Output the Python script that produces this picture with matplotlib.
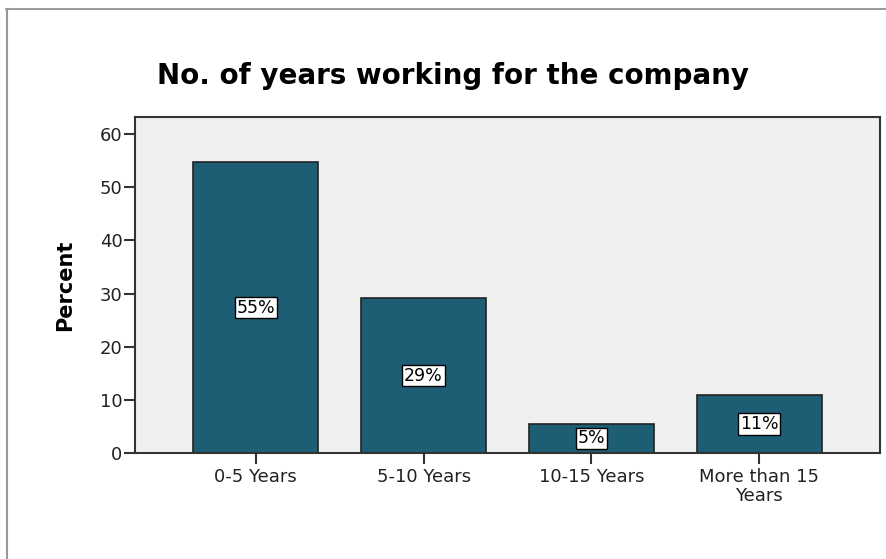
import matplotlib.pyplot as plt
from matplotlib.lines import Line2D

categories = ["0-5 Years", "5-10 Years", "10-15 Years", "More than 15\nYears"]
percent = [54.7, 29.1, 5.5, 10.9]
labels = ["55%", "29%", "5%", "11%"]
yticks = [0, 10, 20, 30, 40, 50, 60]

plt.rcParams['font.family'] = ['DejaVu Sans']

fig = plt.figure(figsize=(8.86, 5.59), dpi=100)
ax = fig.add_axes([135/886, 1 - 453/559, 745/886, 336/559])
ax.set_facecolor("#f0f0f0")

x = range(len(categories))
ax.bar(x, percent, width=0.744, color="#1d5e74", edgecolor="#222222", linewidth=1.2)
for i, (v, lab) in enumerate(zip(percent, labels)):
    ax.text(i, v / 2, lab, ha="center", va="center", fontsize=12.5, color="black",
            bbox=dict(boxstyle="square,pad=0.1", facecolor="white", edgecolor="black", linewidth=1))

ax.set_xlim(-0.72, 3.72)
ax.set_ylim(0, 63.2)
ax.set_xticks(list(x))
ax.set_xticklabels(categories, fontsize=13, color="#222222", linespacing=1.05)
ax.set_yticks(yticks)
ax.set_yticklabels([str(t) for t in yticks], fontsize=13, color="#222222")
ax.tick_params(axis="both", direction="out", length=8, width=1.5, color="#333333")
ax.tick_params(axis="x", pad=3)
ax.tick_params(axis="y", pad=1)
for s in ax.spines.values():
    s.set_color("#333333")
    s.set_linewidth(1.5)

ax.set_ylabel("Percent", fontsize=15, fontweight="bold")
ax.yaxis.set_label_coords(-0.08, 0.5)
fig.text(453/886, 1 - 84/559, "No. of years working for the company", ha="center", va="baseline",
         fontsize=20, fontweight="bold", color="black")

# outer frame lines (top and left)
fig.add_artist(Line2D([6/886, 1], [1 - 9/559, 1 - 9/559], color="#888888", linewidth=1.2))
fig.add_artist(Line2D([6.5/886, 6.5/886], [0, 1 - 9/559], color="#999999", linewidth=1.5))

fig.savefig("out.png", dpi=100)
